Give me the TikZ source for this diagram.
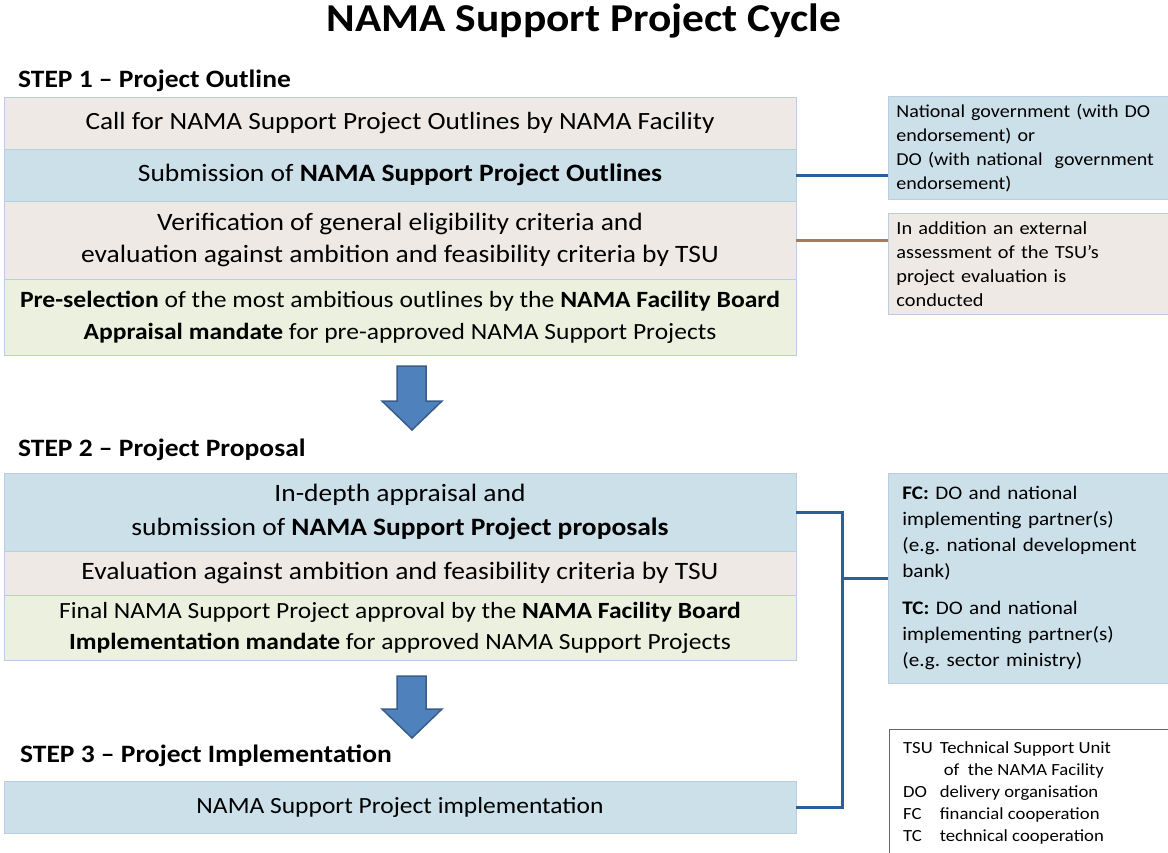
\documentclass[tikz,border=0pt]{standalone}
\usepackage{fontspec}
\setmainfont{Carlito}[FakeStretch=1.1]
\frenchspacing
\definecolor{beige}{HTML}{EEE9E5}
\definecolor{lblue}{HTML}{CCE0EA}
\definecolor{lgreen}{HTML}{EBF1DE}
\definecolor{bord}{HTML}{B9CDE5}
\definecolor{conblue}{HTML}{2A5F9E}
\definecolor{conbrown}{HTML}{A47D5C}
\definecolor{arrfill}{HTML}{4F81BD}
\definecolor{arrdraw}{HTML}{385D8A}
\newcommand{\fs}[1]{\fontsize{#1}{32}\selectfont}
\begin{document}
\begin{tikzpicture}[x=1pt,y=-1pt,
  mainbox/.style={draw=bord, line width=0.8pt, minimum width=792pt, inner sep=0pt, align=center, font=\fontsize{25}{32}\selectfont},
  sidebox/.style={draw=bord, line width=0.8pt, anchor=north west, inner ysep=0pt, align=left, minimum width=290pt},
  steplabel/.style={anchor=west, inner sep=0pt, font=\fontsize{25}{28}\selectfont\bfseries},
  conn/.style={line width=3pt, conblue},
  bigarrow/.style={fill=arrfill, draw=arrdraw, line width=1.5pt, line join=miter}
]
\useasboundingbox (0,0) rectangle (1168,852);
\fill[white] (0,0) rectangle (1168,852);

\node[inner sep=0pt, font=\fontsize{39.5}{44}\selectfont\bfseries] (title) at (584,21) {NAMA Support Project Cycle};

\node[steplabel] (s1) at (18,81) {STEP 1 -- Project Outline};
\node[mainbox, fill=beige, minimum height=52pt, font=\fontsize{24.8}{32}\selectfont] (b1) at (400,123.5) {Call for NAMA Support Project Outlines by NAMA Facility};
\node[mainbox, fill=lblue, minimum height=52pt] (b2) at (400,175) {Submission of \textbf{NAMA Support Project Outlines}};
\node[mainbox, fill=beige, minimum height=78pt] (b3) at (400,240) {Verification of general eligibility criteria and\\evaluation against ambition and feasibility criteria by TSU};
\node[mainbox, fill=lgreen, minimum height=76pt] (b4) at (400,317) {{\fs{23.3}\textbf{Pre-selection} of the most ambitious outlines by the \textbf{NAMA Facility Board}}\\{\fs{23.2}\textbf{Appraisal mandate} for pre-approved NAMA Support Projects}};

\draw[bigarrow] (397,366) -- (426,366) -- (426,401) -- (442,401) -- (412,430) -- (382,401) -- (397,401) -- cycle;

\node[steplabel] (s2) at (18,450) {STEP 2 -- Project Proposal};
\node[mainbox, fill=lblue, minimum height=78pt, font=\fontsize{25}{34}\selectfont] (b5) at (400,512) {In-depth appraisal and\\submission of \textbf{NAMA Support Project proposals}};
\node[mainbox, fill=beige, minimum height=44pt] (b6) at (400,573) {Evaluation against ambition and feasibility criteria by TSU};
\node[mainbox, fill=lgreen, minimum height=65pt, font=\fontsize{23.2}{31}\selectfont] (b7) at (400,627.5) {Final NAMA Support Project approval by the \textbf{NAMA Facility Board}\\\textbf{Implementation mandate} for approved NAMA Support Projects};

\draw[bigarrow] (397,676) -- (426,676) -- (426,709) -- (442,709) -- (412,738) -- (382,709) -- (397,709) -- cycle;

\node[steplabel] (s3) at (20,756) {STEP 3 -- Project Implementation};
\node[mainbox, fill=lblue, minimum height=52pt, font=\fontsize{23.2}{32}\selectfont] (b8) at (400,807) {NAMA Support Project implementation};

% side boxes
\node[sidebox, fill=lblue, inner xsep=8pt, text width=274pt, minimum height=103pt, font=\fontsize{18.2}{24}\selectfont] (r1) at (888,96) {National government (with DO\\endorsement) or\\DO (with national\ \ government\\endorsement)};
\node[sidebox, fill=beige, inner xsep=8pt, text width=274pt, minimum height=101pt, font=\fontsize{18.5}{24}\selectfont] (r2) at (888,213) {In addition an external\\assessment of the TSU’s\\project evaluation is\\conducted};
\node[sidebox, fill=lblue, inner xsep=14pt, text width=262pt, minimum height=210pt, font=\fontsize{19.2}{26}\selectfont] (r3) at (888,473) {\textbf{FC:} DO and national\\implementing partner(s)\\(e.g. national development\\bank)\\[11pt]\textbf{TC:} DO and national\\implementing partner(s)\\(e.g. sector ministry)};

\node[draw=gray!80!black, line width=0.8pt, anchor=north west, minimum width=290pt, minimum height=130pt, inner sep=0pt] (leg) at (889,729) {};
\node[anchor=north west, inner sep=0pt, font=\fontsize{17}{22}\selectfont, align=left] (legtext) at (903,738) {%
\begin{tabular}{@{}l@{\hspace{7pt}}l@{}}
TSU & Technical Support Unit\\
 & \hspace{4pt}of\ \ the NAMA Facility\\
DO & delivery organisation\\
FC & financial cooperation\\
TC & technical cooperation
\end{tabular}};

% connectors
\draw[conn] (b2.east) -- (r1.west |- b2.east);
\draw[conbrown, line width=3pt] (b3.east) -- (r2.west |- b3.east);
\coordinate (j) at (842,578);
\draw[conn] (b5.east) -| (j) |- (b8.east);
\draw[conn] (j) -- (r3.west |- j);
\end{tikzpicture}
\end{document}
